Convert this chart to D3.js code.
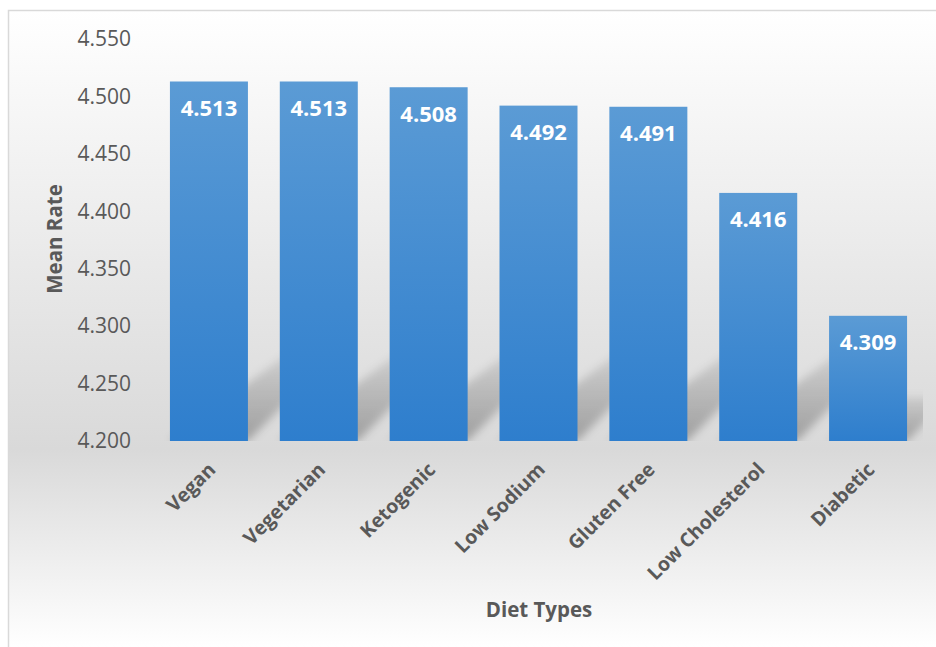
<!DOCTYPE html>
<html>
<head>
<meta charset="utf-8">
<script src="https://cdn.jsdelivr.net/npm/d3@7"></script>
<style>
  body { margin: 0; background: #fff; }
  svg { display: block; font-family: "Open Sans", sans-serif; }
</style>
</head>
<body>
<svg id="chart" width="936" height="647"></svg>
<script>
const dietTypes = ["Vegan", "Vegetarian", "Ketogenic", "Low Sodium", "Gluten Free", "Low Cholesterol", "Diabetic"];
const meanRates = [4.513, 4.513, 4.508, 4.492, 4.491, 4.416, 4.309];
const yTickValues = [4.2, 4.25, 4.3, 4.35, 4.4, 4.45, 4.5, 4.55];

const svg = d3.select("#chart");
const width = +svg.attr("width");
const height = +svg.attr("height");
const plot = { left: 154, right: 923, top: 39, bottom: 441 };

const defs = svg.append("defs");

// chart area background: white -> grey -> white
const bg = defs.append("linearGradient")
  .attr("id", "bg-grad")
  .attr("gradientUnits", "userSpaceOnUse")
  .attr("x1", 0).attr("y1", 10).attr("x2", 0).attr("y2", height);
bg.selectAll("stop")
  .data([
    { o: "0%", c: "#ffffff" },
    { o: "69%", c: "#d9d9d9" },
    { o: "100%", c: "#ffffff" }
  ])
  .enter().append("stop")
  .attr("offset", d => d.o)
  .attr("stop-color", d => d.c);

const barGrad = defs.append("linearGradient")
  .attr("id", "bar-grad")
  .attr("x1", 0).attr("y1", 0).attr("x2", 0).attr("y2", 1);
barGrad.append("stop").attr("offset", "0%").attr("stop-color", "#5b9bd5");
barGrad.append("stop").attr("offset", "100%").attr("stop-color", "#2e7ecd");

const shGrad = defs.append("linearGradient")
  .attr("id", "shadow-grad")
  .attr("x1", 0).attr("y1", 1).attr("x2", 0).attr("y2", 0);
shGrad.append("stop").attr("offset", "0%").attr("stop-color", "#000").attr("stop-opacity", 0.27);
shGrad.append("stop").attr("offset", "100%").attr("stop-color", "#000").attr("stop-opacity", 0.08);

defs.append("filter").attr("id", "blur")
  .attr("x", "-20%").attr("y", "-20%").attr("width", "140%").attr("height", "140%")
  .append("feGaussianBlur").attr("stdDeviation", 4);

defs.append("clipPath").attr("id", "plot-clip")
  .append("rect")
  .attr("x", plot.left).attr("y", 0)
  .attr("width", plot.right - plot.left).attr("height", plot.bottom);

svg.append("rect")
  .attr("x", 8.5).attr("y", 10.5)
  .attr("width", 1000).attr("height", 1000)
  .attr("fill", "url(#bg-grad)")
  .attr("stroke", "#d9d9d9")
  .attr("stroke-width", 1.5);

const data = dietTypes.map((name, i) => ({ name, value: meanRates[i] }));

const x = d3.scaleBand().domain(dietTypes).range([plot.left, plot.right]).paddingInner(0.29).paddingOuter(0.145);
const y = d3.scaleLinear().domain([4.2, 4.55]).range([plot.bottom, plot.top]);

// perspective shadows behind the bars
svg.append("g")
  .attr("clip-path", "url(#plot-clip)")
  .selectAll("path")
  .data(data)
  .enter().append("path")
  .attr("d", d => {
    const x0 = x(d.name), x1 = x0 + x.bandwidth();
    const h = plot.bottom - y(d.value);
    const s = Math.min(88, 0.35 * h);
    return `M${x0},${plot.bottom} L${x1},${plot.bottom} L${x1 + s},${plot.bottom - s} L${x0 + 1.35 * s},${plot.bottom - s} Z`;
  })
  .attr("fill", "url(#shadow-grad)")
  .attr("filter", "url(#blur)");

svg.append("g")
  .selectAll("rect")
  .data(data)
  .enter().append("rect")
  .attr("x", d => x(d.name))
  .attr("y", d => y(d.value))
  .attr("width", x.bandwidth())
  .attr("height", d => plot.bottom - y(d.value))
  .attr("fill", "url(#bar-grad)");

svg.append("g")
  .selectAll("text")
  .data(data)
  .enter().append("text")
  .attr("x", d => x(d.name) + x.bandwidth() / 2)
  .attr("y", d => y(d.value) + 34.5)
  .attr("text-anchor", "middle")
  .attr("fill", "#ffffff")
  .style("font-size", "22px")
  .style("font-weight", "bold")
  .text(d => d.value.toFixed(3));

// y axis
const yAxis = svg.append("g")
  .attr("transform", "translate(138,0)")
  .call(d3.axisLeft(y).tickValues(yTickValues).tickSize(0).tickPadding(7).tickFormat(d3.format(".3f")));
yAxis.select(".domain").remove();
yAxis.selectAll("text")
  .attr("fill", "#595959")
  .style("font-size", "21px")
  .style("font-family", "'Open Sans', sans-serif");

// x axis
const xAxis = svg.append("g")
  .attr("transform", `translate(0,${plot.bottom})`)
  .call(d3.axisBottom(x).tickSize(0));
xAxis.select(".domain").remove();
xAxis.selectAll("text")
  .attr("x", 0).attr("y", 0).attr("dy", "0.35em")
  .attr("text-anchor", "end")
  .attr("transform", "translate(3,25) rotate(-45)")
  .attr("fill", "#595959")
  .style("font-size", "19.5px")
  .style("font-weight", "bold")
  .style("font-family", "'Open Sans', sans-serif");

svg.append("text")
  .attr("transform", "translate(62,239) rotate(-90)")
  .attr("text-anchor", "middle")
  .attr("fill", "#595959")
  .style("font-size", "20.5px")
  .style("font-weight", "bold")
  .text("Mean Rate");

svg.append("text")
  .attr("x", 539)
  .attr("y", 617)
  .attr("text-anchor", "middle")
  .attr("fill", "#595959")
  .style("font-size", "20.5px")
  .style("font-weight", "bold")
  .text("Diet Types");
</script>
</body>
</html>
